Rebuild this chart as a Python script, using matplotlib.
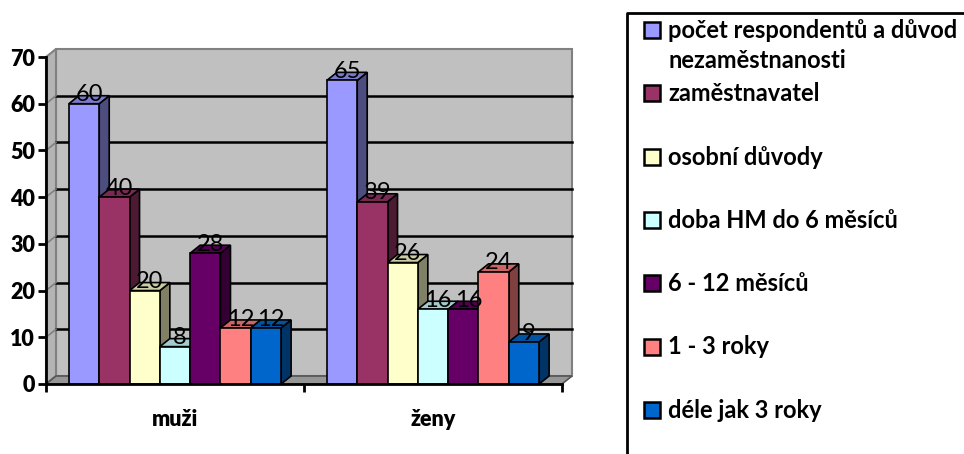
import matplotlib
matplotlib.use("Agg")
import matplotlib.pyplot as plt
from matplotlib.patches import Polygon, Rectangle

# data
groups = ["muži", "ženy"]
series = ["počet respondentů a důvod\nnezaměstnanosti", "zaměstnavatel", "osobní důvody",
          "doba HM do 6 měsíců", "6 - 12 měsíců", "1 - 3 roky", "déle jak 3 roky"]
muzi = [60, 40, 20, 8, 28, 12, 12]
zeny = [65, 39, 26, 16, 16, 24, 9]
colors = ["#9999FF", "#993366", "#FFFFCC", "#CCFFFF", "#660066", "#FF8080", "#0066CC"]
yticks = [0, 10, 20, 30, 40, 50, 60, 70]

FAM = ["Lato", "DejaVu Sans"]
plt.rcParams["font.family"] = FAM

W, H = 964, 454
fig = plt.figure(figsize=(W / 100, H / 100), dpi=100)
ax = fig.add_axes([46 / W, 70 / H, 516 / W, 327 / H])
ax.set_xlim(0, 2)
ax.set_ylim(0, 70)

# 3-D depth offset (about 10 px right, 8 px up)
dx = 10 / 516 * 2
dy = 8 / 327 * 70


def shade(c, f):
    r, g, b = matplotlib.colors.to_rgb(c)
    return (r * f, g * f, b * f)


# walls and floor
ax.add_patch(Rectangle((dx, dy), 2, 70, facecolor="#C0C0C0", edgecolor="#808080",
                       lw=1.5, clip_on=False, zorder=0))
ax.add_patch(Polygon([(0, 0), (dx, dy), (dx, 70 + dy), (0, 70)], closed=True,
                     facecolor="#B4B4B4", edgecolor="#808080", lw=1.5, clip_on=False, zorder=0))
ax.add_patch(Polygon([(0, 0), (2, 0), (2 + dx, dy), (dx, dy)], closed=True,
                     facecolor="#969696", edgecolor="#555555", lw=1.2, clip_on=False, zorder=1))
for v in yticks[1:-1]:
    ax.plot([dx, 2 + dx], [v + dy, v + dy], color="black", lw=1.8, zorder=1, clip_on=False)
    ax.plot([0, dx], [v, v + dy], color="#808080", lw=1.2, zorder=1, clip_on=False)

# bars: side, top, front; later bars cover earlier sides
w = 0.1175
n = len(series)
z = 2
for g, vals in enumerate([muzi, zeny]):
    x0 = g + 0.5 - n * w / 2
    for i, v in enumerate(vals):
        x = x0 + i * w
        c = colors[i]
        ax.add_patch(Polygon([(x + w, 0), (x + w + dx, dy), (x + w + dx, v + dy), (x + w, v)],
                             closed=True, facecolor=shade(c, 0.5), edgecolor="black",
                             lw=1.2, zorder=z, clip_on=False))
        ax.add_patch(Polygon([(x, v), (x + dx, v + dy), (x + w + dx, v + dy), (x + w, v)],
                             closed=True, facecolor=shade(c, 0.8), edgecolor="black",
                             lw=1.2, zorder=z, clip_on=False))
        ax.add_patch(Rectangle((x, 0), w, v, facecolor=c, edgecolor="black",
                               lw=1.2, zorder=z + 0.5, clip_on=False))
        z += 1
        ax.text(x + w / 2 + dx / 2, v + dy * 0.3, str(v), ha="center", va="baseline",
                fontsize=17, family=FAM, color="black", zorder=100)

# axes
for s in ["top", "right"]:
    ax.spines[s].set_visible(False)
for s in ["left", "bottom"]:
    ax.spines[s].set_linewidth(2)
    ax.spines[s].set_zorder(50)
ax.set_yticks(yticks)
ax.set_yticklabels([str(t) for t in yticks])
ax.tick_params(axis="y", length=6, width=2, pad=2)
ax.set_xticks([0.5, 1.5])
ax.set_xticklabels(groups)
ax.tick_params(axis="x", which="major", length=0, pad=18)
ax.set_xticks([0, 1, 2], minor=True)
ax.tick_params(axis="x", which="minor", length=6, width=2)
for lbl in ax.get_yticklabels() + ax.get_xticklabels():
    lbl.set_fontfamily(FAM)
    lbl.set_fontweight("heavy")
    lbl.set_fontsize(15.5)

# legend box, drawn by hand to keep the equal slots
lax = fig.add_axes([627 / W, 0, 337 / W, (H - 13) / H])
lax.set_xlim(0, 337)
lax.set_ylim(H - 13, 0)
lax.axis("off")
lax.plot([0, 0, 400], [600, 0, 0], color="black", lw=2, clip_on=False)
for i, lab in enumerate(series):
    yc = 17 + i * 63.3
    lax.add_patch(Rectangle((17, yc - 8), 16, 16, facecolor=colors[i], edgecolor="black", lw=1.8))
    for k, line in enumerate(lab.split("\n")):
        lax.text(41, yc + 8 + 30 * k, line, ha="left", va="baseline", family=FAM,
                 fontsize=17, fontweight="bold", clip_on=False)

fig.savefig("out.png", dpi=100)
